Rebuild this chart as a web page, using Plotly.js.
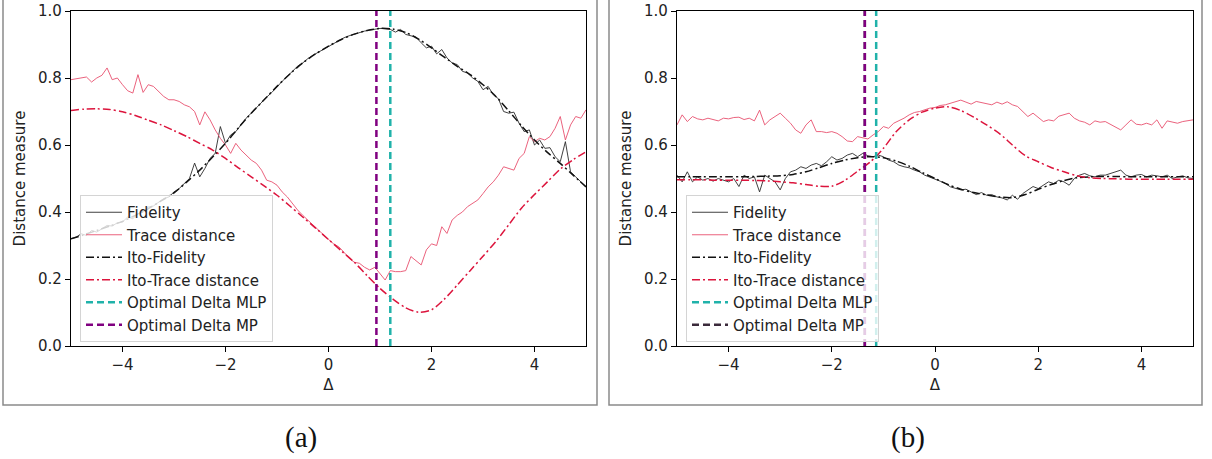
<!DOCTYPE html>
<html>
<head>
<meta charset="utf-8">
<script src="https://cdn.plot.ly/plotly-3.0.1.min.js"></script>
<style>html,body{margin:0;padding:0;background:#fff;}#chart{width:1212px;height:459px;}</style>
</head>
<body>
<div id="chart"></div>
<script>
// ---------- data ----------
var xFine = [-5,-4.9,-4.8,-4.7,-4.6,-4.5,-4.4,-4.3,-4.2,-4.1,-4,-3.9,-3.8,-3.7,-3.6,-3.5,-3.4,-3.3,-3.2,-3.1,-3,-2.9,-2.8,-2.7,-2.6,-2.5,-2.4,-2.3,-2.2,-2.1,-2,-1.9,-1.8,-1.7,-1.6,-1.5,-1.4,-1.3,-1.2,-1.1,-1,-0.9,-0.8,-0.7,-0.6,-0.5,-0.4,-0.3,-0.2,-0.1,0,0.1,0.2,0.3,0.4,0.5,0.6,0.7,0.8,0.9,1,1.1,1.2,1.3,1.4,1.5,1.6,1.7,1.8,1.9,2,2.1,2.2,2.3,2.4,2.5,2.6,2.7,2.8,2.9,3,3.1,3.2,3.3,3.4,3.5,3.6,3.7,3.8,3.9,4,4.1,4.2,4.3,4.4,4.5,4.6,4.7,4.8,4.9,5];
var xCoarse = [-5,-4.75,-4.5,-4.25,-4,-3.75,-3.5,-3.25,-3,-2.75,-2.5,-2.25,-2,-1.75,-1.5,-1.25,-1,-0.75,-0.5,-0.25,0,0.25,0.5,0.75,1,1.25,1.5,1.75,2,2.25,2.5,2.75,3,3.25,3.5,3.75,4,4.25,4.5,4.75,5];

// panel (a)
var fidelityA = [0.32,0.325,0.335,0.33,0.345,0.34,0.35,0.36,0.358,0.368,0.37,0.385,0.38,0.395,0.40,0.415,0.418,0.43,0.44,0.445,0.46,0.47,0.485,0.50,0.546,0.505,0.53,0.56,0.575,0.655,0.605,0.63,0.64,0.66,0.68,0.695,0.712,0.727,0.743,0.757,0.775,0.79,0.805,0.82,0.835,0.845,0.858,0.868,0.877,0.886,0.895,0.904,0.912,0.92,0.926,0.931,0.936,0.94,0.943,0.946,0.948,0.947,0.945,0.937,0.945,0.93,0.925,0.922,0.905,0.89,0.895,0.872,0.885,0.86,0.845,0.84,0.82,0.815,0.80,0.79,0.765,0.775,0.75,0.738,0.70,0.695,0.698,0.665,0.64,0.645,0.60,0.615,0.59,0.592,0.565,0.55,0.61,0.52,0.505,0.49,0.475];
var traceA = [0.795,0.798,0.80,0.803,0.788,0.80,0.808,0.83,0.795,0.80,0.78,0.762,0.755,0.81,0.757,0.78,0.775,0.76,0.745,0.735,0.735,0.73,0.72,0.714,0.70,0.66,0.699,0.675,0.645,0.62,0.60,0.575,0.605,0.585,0.57,0.555,0.545,0.525,0.495,0.49,0.48,0.46,0.445,0.425,0.406,0.39,0.375,0.362,0.345,0.332,0.318,0.305,0.296,0.28,0.262,0.25,0.247,0.235,0.227,0.235,0.215,0.197,0.225,0.222,0.222,0.225,0.267,0.255,0.242,0.287,0.305,0.30,0.356,0.336,0.376,0.39,0.40,0.416,0.425,0.436,0.455,0.475,0.49,0.51,0.535,0.53,0.525,0.56,0.575,0.625,0.61,0.62,0.615,0.625,0.65,0.685,0.615,0.66,0.685,0.68,0.705];
var itoFidA = [0.320,0.332,0.345,0.358,0.372,0.390,0.410,0.433,0.457,0.490,0.525,0.564,0.605,0.651,0.695,0.735,0.775,0.812,0.845,0.872,0.895,0.915,0.931,0.942,0.948,0.946,0.936,0.916,0.890,0.862,0.835,0.810,0.780,0.745,0.702,0.657,0.615,0.578,0.545,0.510,0.475];
var itoTraceA = [0.703,0.707,0.708,0.706,0.699,0.688,0.674,0.660,0.643,0.625,0.605,0.585,0.560,0.532,0.505,0.478,0.450,0.418,0.385,0.352,0.318,0.284,0.250,0.210,0.172,0.140,0.114,0.101,0.108,0.140,0.182,0.225,0.268,0.312,0.362,0.412,0.452,0.490,0.528,0.556,0.580];
var optMLP_A = 1.20;
var optMP_A = 0.93;

// panel (b)
var fidelityB = [0.51,0.49,0.52,0.49,0.505,0.495,0.50,0.492,0.50,0.495,0.49,0.50,0.476,0.51,0.50,0.505,0.46,0.51,0.50,0.49,0.466,0.50,0.52,0.525,0.535,0.53,0.54,0.545,0.538,0.55,0.565,0.555,0.56,0.57,0.575,0.565,0.575,0.568,0.565,0.57,0.565,0.555,0.55,0.54,0.535,0.532,0.525,0.52,0.51,0.505,0.498,0.492,0.485,0.475,0.47,0.466,0.468,0.46,0.452,0.458,0.45,0.452,0.445,0.442,0.436,0.45,0.438,0.455,0.465,0.476,0.47,0.48,0.49,0.485,0.495,0.49,0.48,0.50,0.51,0.515,0.508,0.505,0.51,0.51,0.515,0.52,0.525,0.51,0.505,0.51,0.512,0.505,0.51,0.508,0.505,0.51,0.50,0.505,0.508,0.502,0.50];
var traceB = [0.66,0.69,0.67,0.685,0.678,0.675,0.68,0.676,0.672,0.68,0.678,0.682,0.683,0.676,0.68,0.672,0.704,0.66,0.675,0.685,0.695,0.68,0.665,0.645,0.635,0.66,0.675,0.64,0.64,0.637,0.64,0.635,0.625,0.612,0.61,0.625,0.622,0.618,0.63,0.64,0.655,0.65,0.665,0.672,0.68,0.69,0.697,0.70,0.705,0.71,0.712,0.718,0.72,0.725,0.728,0.734,0.728,0.722,0.73,0.726,0.724,0.72,0.728,0.722,0.729,0.72,0.715,0.70,0.685,0.695,0.683,0.67,0.675,0.672,0.686,0.69,0.695,0.68,0.672,0.668,0.66,0.672,0.668,0.67,0.662,0.655,0.645,0.66,0.675,0.662,0.66,0.665,0.66,0.675,0.65,0.672,0.668,0.665,0.67,0.672,0.675];
var itoFidB = [0.505,0.505,0.505,0.505,0.505,0.505,0.506,0.507,0.508,0.512,0.520,0.532,0.545,0.555,0.562,0.565,0.562,0.552,0.537,0.518,0.500,0.482,0.468,0.458,0.451,0.445,0.443,0.452,0.468,0.482,0.494,0.502,0.505,0.506,0.506,0.505,0.505,0.505,0.505,0.505,0.505];
var itoTraceB = [0.496,0.496,0.496,0.495,0.495,0.495,0.494,0.493,0.490,0.487,0.482,0.477,0.477,0.494,0.522,0.550,0.590,0.640,0.675,0.698,0.710,0.714,0.703,0.683,0.660,0.634,0.600,0.568,0.550,0.533,0.520,0.508,0.502,0.500,0.499,0.498,0.498,0.498,0.498,0.498,0.498];
var optMLP_B = -1.14;
var optMP_B = -1.36;

var vY = [0, 1];
var xTicks = [-4, -2, 0, 2, 4];
var yTicks = [0, 0.2, 0.4, 0.6, 0.8, 1.0];
var names = ['Fidelity', 'Trace distance', 'Ito-Fidelity', 'Ito-Trace distance', 'Optimal Delta MLP', 'Optimal Delta MP'];
var captions = ['(a)', '(b)'];

// ---------- styles ----------
var W = 1212, H = 459;
var cFid = '#2b2b2b', cTrace = '#e8506e', cIto = '#111111', cItoTr = '#dc143c', cMLP = '#20b2aa', cMP = '#800080';
var dashDot = '8px,3px,2px,3px';
var dashV = '7px,4px';

function panel(xa, ya, lg, fid, tr, iF, iT, mlp, mp, mpLegendColor) {
  var t = [];
  t.push({x: xFine, y: fid, xaxis: xa, yaxis: ya, legend: lg, name: names[0], mode: 'lines', line: {color: cFid, width: 0.9}});
  t.push({x: xFine, y: tr, xaxis: xa, yaxis: ya, legend: lg, name: names[1], mode: 'lines', line: {color: cTrace, width: 0.9}});
  t.push({x: xCoarse, y: iF, xaxis: xa, yaxis: ya, legend: lg, name: names[2], mode: 'lines', line: {color: cIto, width: 1.5, dash: dashDot, shape: 'spline', smoothing: 0.8}});
  t.push({x: xCoarse, y: iT, xaxis: xa, yaxis: ya, legend: lg, name: names[3], mode: 'lines', line: {color: cItoTr, width: 1.5, dash: dashDot, shape: 'spline', smoothing: 0.8}});
  t.push({x: [mlp, mlp], y: vY, xaxis: xa, yaxis: ya, legend: lg, name: names[4], mode: 'lines', line: {color: cMLP, width: 2.5, dash: dashV}});
  if (mpLegendColor) {
    t.push({x: [mp, mp], y: vY, xaxis: xa, yaxis: ya, legend: lg, name: names[5], mode: 'lines', line: {color: mpLegendColor, width: 2.5, dash: dashV}});
    t.push({x: [mp, mp], y: vY, xaxis: xa, yaxis: ya, legend: lg, name: names[5], showlegend: false, mode: 'lines', line: {color: cMP, width: 2.5, dash: dashV}});
  } else {
    t.push({x: [mp, mp], y: vY, xaxis: xa, yaxis: ya, legend: lg, name: names[5], mode: 'lines', line: {color: cMP, width: 2.5, dash: dashV}});
  }
  return t;
}

var data = panel('x', 'y', 'legend', fidelityA, traceA, itoFidA, itoTraceA, optMLP_A, optMP_A, null)
  .concat(panel('x2', 'y2', 'legend2', fidelityB, traceB, itoFidB, itoTraceB, optMLP_B, optMP_B, '#3b2a3b'));

var font = {family: 'DejaVu Sans, sans-serif', size: 15, color: '#222'};
function xax(dom, anchor) {
  return {domain: dom, anchor: anchor, range: [-5, 5], tickvals: xTicks, showline: true, mirror: true, linecolor: '#000', linewidth: 1.2,
    ticks: 'outside', ticklen: 5, tickwidth: 1, tickcolor: '#000', showgrid: false, zeroline: false, tickfont: font,
    title: {text: 'Δ', font: font, standoff: 6}};
}
function yax(dom, anchor) {
  return {domain: dom, anchor: anchor, range: [0, 1], tickvals: yTicks, tickformat: '.1f', showline: true, mirror: true, linecolor: '#000', linewidth: 1.2,
    ticks: 'outside', ticklen: 5, tickwidth: 1, tickcolor: '#000', showgrid: false, zeroline: false, tickfont: font,
    title: {text: 'Distance measure', font: font, standoff: 8}};
}
var yDom = [(H - 346) / H, (H - 11) / H];
var legendStyle = function (x) {
  return {x: x, y: (H - 195) / H, xanchor: 'left', yanchor: 'top', xref: 'paper', yref: 'paper',
    bgcolor: 'rgba(255,255,255,0.8)', bordercolor: '#d4d4d4', borderwidth: 1, font: font, itemwidth: 36, tracegroupgap: 0};
};

var layout = {
  width: W, height: H, margin: {l: 0, r: 0, t: 0, b: 0}, paper_bgcolor: '#fff', plot_bgcolor: '#fff',
  showlegend: true,
  xaxis: xax([71 / W, 586 / W], 'y'),
  yaxis: yax(yDom, 'x'),
  xaxis2: xax([677 / W, 1193 / W], 'y2'),
  yaxis2: yax(yDom, 'x2'),
  legend: legendStyle(80 / W),
  legend2: legendStyle(686 / W),
  shapes: [
    {type: 'rect', xref: 'paper', yref: 'paper', x0: 3 / W, x1: 597 / W, y0: (H - 405) / H, y1: 1.01, line: {color: '#8a8a8a', width: 1.5}},
    {type: 'rect', xref: 'paper', yref: 'paper', x0: 609 / W, x1: 1202 / W, y0: (H - 405) / H, y1: 1.01, line: {color: '#8a8a8a', width: 1.5}}
  ],
  annotations: [
    {text: captions[0], xref: 'paper', yref: 'paper', x: 301 / W, y: (H - 437) / H, showarrow: false, xanchor: 'center', yanchor: 'middle', font: {family: 'Liberation Serif, serif', size: 29, color: '#111'}},
    {text: captions[1], xref: 'paper', yref: 'paper', x: 908 / W, y: (H - 437) / H, showarrow: false, xanchor: 'center', yanchor: 'middle', font: {family: 'Liberation Serif, serif', size: 29, color: '#111'}}
  ]
};

Plotly.newPlot('chart', data, layout, {displayModeBar: false, staticPlot: true});
</script>
</body>
</html>
